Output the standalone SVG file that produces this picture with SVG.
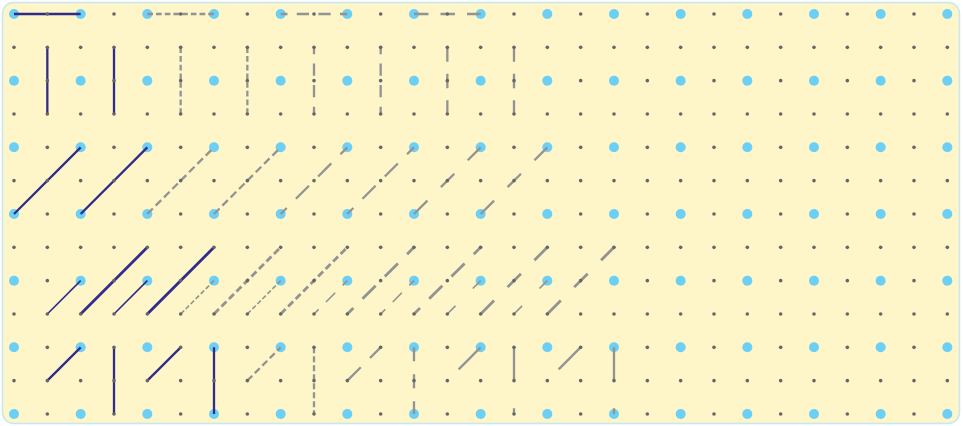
<svg xmlns="http://www.w3.org/2000/svg" xmlns:xlink="http://www.w3.org/1999/xlink" width="963" height="426" viewBox="0 0 963 426">
<style>
.bg{fill:#fef5c8;stroke:#c6e8f6;stroke-width:1.5}
.big{fill:#6bcff6}
.sm{fill:#666666}
.solid{stroke:#302c8a;stroke-width:2.3;fill:none}
.dash{stroke:#939393;stroke-width:2.3;fill:none}
.thin{stroke-width:1.6}
.thick{stroke-width:2.8}
</style>
<defs>
<g id="rowBig">
<circle class="big" cx="14" cy="0" r="5"/><circle class="big" cx="80.67" cy="0" r="5"/><circle class="big" cx="147.33" cy="0" r="5"/><circle class="big" cx="214" cy="0" r="5"/><circle class="big" cx="280.67" cy="0" r="5"/><circle class="big" cx="347.33" cy="0" r="5"/><circle class="big" cx="414" cy="0" r="5"/><circle class="big" cx="480.67" cy="0" r="5"/><circle class="big" cx="547.33" cy="0" r="5"/><circle class="big" cx="614" cy="0" r="5"/><circle class="big" cx="680.67" cy="0" r="5"/><circle class="big" cx="747.33" cy="0" r="5"/><circle class="big" cx="814" cy="0" r="5"/><circle class="big" cx="880.67" cy="0" r="5"/><circle class="big" cx="947.33" cy="0" r="5"/>
</g>
<g id="rowSmallEven">
<circle class="sm" cx="47.33" cy="0" r="1.8"/><circle class="sm" cx="114" cy="0" r="1.8"/><circle class="sm" cx="180.67" cy="0" r="1.8"/><circle class="sm" cx="247.33" cy="0" r="1.8"/><circle class="sm" cx="314" cy="0" r="1.8"/><circle class="sm" cx="380.67" cy="0" r="1.8"/><circle class="sm" cx="447.33" cy="0" r="1.8"/><circle class="sm" cx="514" cy="0" r="1.8"/><circle class="sm" cx="580.67" cy="0" r="1.8"/><circle class="sm" cx="647.33" cy="0" r="1.8"/><circle class="sm" cx="714" cy="0" r="1.8"/><circle class="sm" cx="780.67" cy="0" r="1.8"/><circle class="sm" cx="847.33" cy="0" r="1.8"/><circle class="sm" cx="914" cy="0" r="1.8"/>
</g>
<g id="rowSmallOdd">
<use xlink:href="#rowSmallEven"/>
<circle class="sm" cx="14" cy="0" r="1.8"/><circle class="sm" cx="80.67" cy="0" r="1.8"/><circle class="sm" cx="147.33" cy="0" r="1.8"/><circle class="sm" cx="214" cy="0" r="1.8"/><circle class="sm" cx="280.67" cy="0" r="1.8"/><circle class="sm" cx="347.33" cy="0" r="1.8"/><circle class="sm" cx="414" cy="0" r="1.8"/><circle class="sm" cx="480.67" cy="0" r="1.8"/><circle class="sm" cx="547.33" cy="0" r="1.8"/><circle class="sm" cx="614" cy="0" r="1.8"/><circle class="sm" cx="680.67" cy="0" r="1.8"/><circle class="sm" cx="747.33" cy="0" r="1.8"/><circle class="sm" cx="814" cy="0" r="1.8"/><circle class="sm" cx="880.67" cy="0" r="1.8"/><circle class="sm" cx="947.33" cy="0" r="1.8"/>
</g>
</defs>
<rect class="bg" x="2.5" y="2.5" width="957" height="421" rx="11"/>
<g id="grid-large">
<use xlink:href="#rowBig" y="14"/><use xlink:href="#rowBig" y="80.67"/><use xlink:href="#rowBig" y="147.33"/><use xlink:href="#rowBig" y="214"/><use xlink:href="#rowBig" y="280.67"/><use xlink:href="#rowBig" y="347.33"/><use xlink:href="#rowBig" y="414"/>
</g>
<g id="connectors">
<!-- solid reference lines -->
<line class="solid" x1="14" y1="14" x2="80.67" y2="14"/>
<line class="solid" x1="47.33" y1="47.33" x2="47.33" y2="114"/>
<line class="solid" x1="114" y1="47.33" x2="114" y2="114"/>
<line class="solid" x1="14" y1="214" x2="80.67" y2="147.33"/>
<line class="solid" x1="80.67" y1="214" x2="147.33" y2="147.33"/>
<line class="solid thin" x1="47.33" y1="314" x2="80.67" y2="280.67"/>
<line class="solid thick" x1="80.67" y1="314" x2="147.33" y2="247.33"/>
<line class="solid thin" x1="114" y1="314" x2="147.33" y2="280.67"/>
<line class="solid thick" x1="147.33" y1="314" x2="214" y2="247.33"/>
<line class="solid" x1="47.33" y1="380.67" x2="80.67" y2="347.33"/>
<line class="solid" x1="114" y1="347.33" x2="114" y2="414"/>
<line class="solid" x1="147.33" y1="380.67" x2="180.67" y2="347.33"/>
<line class="solid" x1="214" y1="347.33" x2="214" y2="414"/>
<!-- row 0 -->
<line class="dash" x1="147.33" y1="14" x2="214" y2="14" stroke-dasharray="5.7 3"/>
<line class="dash" x1="280.67" y1="14" x2="347.33" y2="14" stroke-dasharray="12.3 9.3" stroke-dashoffset="5.5"/>
<line class="dash" x1="414" y1="14" x2="480.67" y2="14" stroke-dasharray="14.5 12"/>
<!-- rows 1-3 -->
<line class="dash" x1="180.67" y1="47.33" x2="180.67" y2="114" stroke-dasharray="5.7 3"/>
<line class="dash" x1="247.33" y1="47.33" x2="247.33" y2="114" stroke-dasharray="5.7 3"/>
<line class="dash" x1="314" y1="47.33" x2="314" y2="114" stroke-dasharray="12.3 9.3" stroke-dashoffset="5.5"/>
<line class="dash" x1="380.67" y1="47.33" x2="380.67" y2="114" stroke-dasharray="12.3 9.3" stroke-dashoffset="5.5"/>
<line class="dash" x1="447.33" y1="47.33" x2="447.33" y2="114" stroke-dasharray="14.5 12"/>
<line class="dash" x1="514" y1="47.33" x2="514" y2="114" stroke-dasharray="14.5 12"/>
<!-- rows 4-6 -->
<line class="dash" x1="147.33" y1="214" x2="214" y2="147.33" stroke-dasharray="7.8 4"/>
<line class="dash" x1="214" y1="214" x2="280.67" y2="147.33" stroke-dasharray="7.8 4"/>
<line class="dash" x1="280.67" y1="214" x2="347.33" y2="147.33" stroke-dasharray="18.5 13" stroke-dashoffset="10"/>
<line class="dash" x1="347.33" y1="214" x2="414" y2="147.33" stroke-dasharray="18.5 13" stroke-dashoffset="10"/>
<line class="dash" x1="414" y1="214" x2="480.67" y2="147.33" stroke-dasharray="19 19"/>
<line class="dash" x1="480.67" y1="214" x2="547.33" y2="147.33" stroke-dasharray="19 19"/>
<!-- rows 7-9 -->
<line class="dash thin" x1="180.67" y1="314" x2="214" y2="280.67" stroke-dasharray="4.7 2.4"/>
<line class="dash thick" x1="214" y1="314" x2="280.67" y2="247.33" stroke-dasharray="7 3.6"/>
<line class="dash thin" x1="247.33" y1="314" x2="280.67" y2="280.67" stroke-dasharray="4.7 2.4"/>
<line class="dash thick" x1="280.67" y1="314" x2="347.33" y2="247.33" stroke-dasharray="7 3.6"/>
<line class="dash thin" x1="314" y1="314" x2="347.33" y2="280.67" stroke-dasharray="13 10.5" stroke-dashoffset="6.5"/>
<line class="dash thick" x1="347.33" y1="314" x2="414" y2="247.33" stroke-dasharray="18.5 13" stroke-dashoffset="10"/>
<line class="dash thin" x1="380.67" y1="314" x2="414" y2="280.67" stroke-dasharray="13 10.5" stroke-dashoffset="6.5"/>
<line class="dash thick" x1="414" y1="314" x2="480.67" y2="247.33" stroke-dasharray="18.5 13" stroke-dashoffset="10"/>
<line class="dash thin" x1="447.33" y1="314" x2="480.67" y2="280.67" stroke-dasharray="11.5 24.5"/>
<line class="dash thick" x1="480.67" y1="314" x2="547.33" y2="247.33" stroke-dasharray="19 19"/>
<line class="dash thin" x1="514" y1="314" x2="547.33" y2="280.67" stroke-dasharray="11.5 24.5"/>
<line class="dash thick" x1="547.33" y1="314" x2="614" y2="247.33" stroke-dasharray="19 19"/>
<!-- rows 10-12 -->
<line class="dash" x1="247.33" y1="380.67" x2="280.67" y2="347.33" stroke-dasharray="7 3.6"/>
<line class="dash" x1="314" y1="347.33" x2="314" y2="414" stroke-dasharray="6 3"/>
<line class="dash" x1="347.33" y1="380.67" x2="380.67" y2="347.33" stroke-dasharray="19 13"/>
<line class="dash" x1="414" y1="347.33" x2="414" y2="414" stroke-dasharray="14 13"/>
<line class="dash" x1="447.33" y1="380.67" x2="480.67" y2="347.33" stroke-dasharray="31 16" stroke-dashoffset="31"/>
<line class="dash" x1="514" y1="347.33" x2="514" y2="414" stroke-dasharray="33 28"/>
<line class="dash" x1="547.33" y1="380.67" x2="580.67" y2="347.33" stroke-dasharray="31 16" stroke-dashoffset="31"/>
<line class="dash" x1="614" y1="347.33" x2="614" y2="414" stroke-dasharray="33 28"/>
</g>
<g id="grid-small">
<use xlink:href="#rowSmallEven" y="14"/><use xlink:href="#rowSmallEven" y="80.67"/><use xlink:href="#rowSmallEven" y="147.33"/><use xlink:href="#rowSmallEven" y="214"/><use xlink:href="#rowSmallEven" y="280.67"/><use xlink:href="#rowSmallEven" y="347.33"/><use xlink:href="#rowSmallEven" y="414"/>
<use xlink:href="#rowSmallOdd" y="47.33"/><use xlink:href="#rowSmallOdd" y="114"/><use xlink:href="#rowSmallOdd" y="180.67"/><use xlink:href="#rowSmallOdd" y="247.33"/><use xlink:href="#rowSmallOdd" y="314"/><use xlink:href="#rowSmallOdd" y="380.67"/>
</g>
</svg>
